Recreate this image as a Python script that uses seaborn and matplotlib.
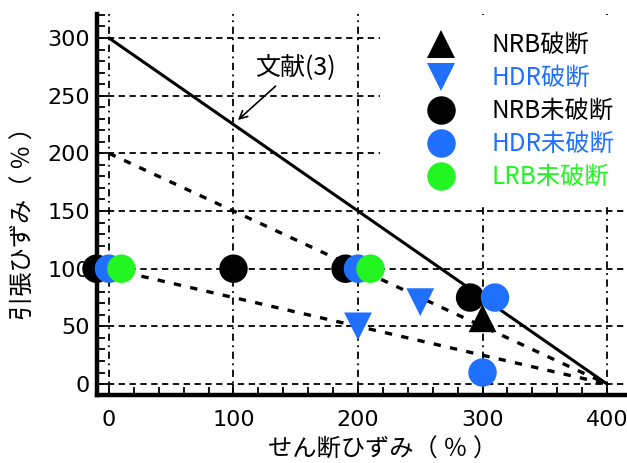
import numpy as np
import pandas as pd
import matplotlib
matplotlib.use("Agg")
import matplotlib.pyplot as plt
import seaborn as sns
from matplotlib.lines import Line2D
from matplotlib.ticker import MultipleLocator

# ---------------- data ----------------
nrb_break_x = [300]
nrb_break_y = [57]
hdr_break_x = [200, 250]
hdr_break_y = [50, 71]
nrb_unbroken_x = [-10, 100, 190, 290]
nrb_unbroken_y = [100, 100, 100, 75]
hdr_unbroken_x = [0, 200, 310, 300]
hdr_unbroken_y = [100, 100, 75, 10]
lrb_unbroken_x = [10, 210]
lrb_unbroken_y = [100, 100]

ref_x = [0, 400]          # 文献(3)
ref_y = [300, 0]
guide_x = [0, 400]
guide1_y = [200, 0]
guide2_y = [100, 0]

x_ticks = [0, 100, 200, 300, 400]
y_ticks = [0, 50, 100, 150, 200, 250, 300]

labels = ["NRB破断", "HDR破断", "NRB未破断", "HDR未破断", "LRB未破断"]
BLACK = "#000000"
BLUE = "#2070ff"
GREEN = "#22f522"

xlabel = "せん断ひずみ（ ％ ）"
ylabel = "引張ひずみ（ ％ ）"
annot = "文献(3)"

# ---------------- figure ----------------
sns.set_theme(style="white")
plt.rcParams["font.family"] = ["DejaVu Sans", "Noto Sans CJK JP"]
plt.rcParams["text.color"] = "black"
plt.rcParams["axes.labelcolor"] = "black"
CJK = ["Noto Sans CJK JP", "DejaVu Sans"]

fig = plt.figure(figsize=(6.27, 4.63), dpi=100)
ax = fig.add_axes([97 / 627, 68 / 463, 530 / 627, 381 / 463])
ax.set_xlim(-9.6, 416)
ax.set_ylim(-9.5, 320.8)

# grid
for v in x_ticks:
    ax.axvline(v, color="black", lw=1.3, ls=(0, (4, 2.5, 1, 2.5)), zorder=1)
for v in y_ticks:
    ax.axhline(v, color="black", lw=1.3, ls=(0, (3.5, 2.5)), zorder=1)

# lines
sns.lineplot(x=guide_x, y=guide1_y, ax=ax, color="black", lw=2.4,
             linestyle=(0, (2.2, 2.8)), zorder=2)
sns.lineplot(x=guide_x, y=guide2_y, ax=ax, color="black", lw=2.4,
             linestyle=(0, (2.2, 2.8)), zorder=2)
sns.lineplot(x=ref_x, y=ref_y, ax=ax, color="black", lw=2.2, zorder=2)

# points
S_C = 420
S_T = 400
kw = dict(ax=ax, edgecolor="none", linewidth=0, clip_on=False, zorder=4, legend=False)
sns.scatterplot(x=nrb_unbroken_x, y=nrb_unbroken_y, color=BLACK, marker="o", s=S_C, **kw)
sns.scatterplot(x=hdr_unbroken_x, y=hdr_unbroken_y, color=BLUE, marker="o", s=S_C, **kw)
sns.scatterplot(x=lrb_unbroken_x, y=lrb_unbroken_y, color=GREEN, marker="o", s=S_C, **kw)
sns.scatterplot(x=nrb_break_x, y=nrb_break_y, color=BLACK, marker="^", s=S_T, **kw)
sns.scatterplot(x=hdr_break_x, y=hdr_break_y, color=BLUE, marker="v", s=S_T, **kw)

# annotation
ax.annotate(annot, xy=(103.6, 228.9), xytext=(150, 274), ha="center", va="center",
            fontsize=18, family=CJK, color="black",
            arrowprops=dict(arrowstyle="->", color="black", lw=1.2,
                            mutation_scale=14, shrinkA=2, shrinkB=0),
            zorder=5)

# axes styling
for s in ["top", "right"]:
    ax.spines[s].set_visible(False)
for s in ["left", "bottom"]:
    ax.spines[s].set_linewidth(3.2)
    ax.spines[s].set_color("black")
    ax.spines[s].set_zorder(3)

ax.set_xticks(x_ticks)
ax.set_yticks(y_ticks)
ax.xaxis.set_minor_locator(MultipleLocator(20))
ax.yaxis.set_minor_locator(MultipleLocator(10))
ax.tick_params(which="major", direction="in", length=8, width=1.3, color="black",
               labelsize=16, labelcolor="black")
ax.tick_params(which="minor", direction="in", length=6, width=1.3, color="black")
ax.tick_params(axis="x", which="major", pad=11)
ax.tick_params(axis="y", which="major", pad=5)
ax.tick_params(left=True, bottom=True, which="both")

ax.set_xlabel(xlabel, fontsize=17.5, family=CJK, color="black")
ax.set_ylabel(ylabel, fontsize=17.5, family=CJK, color="black")
ax.xaxis.set_label_coords((383 - 97) / 530, -(437 - 395) / 381)
ax.yaxis.set_label_coords(-(97 - 37) / 530, (395 - 218) / 381)

# legend
colors = [BLACK, BLUE, BLACK, BLUE, GREEN]
markers = ["^", "v", "o", "o", "o"]
handles = [Line2D([], [], ls="none", marker=m, color=c, markersize=(20 if m != "o" else 20.5),
                  markeredgewidth=0) for m, c in zip(markers, colors)]
leg = ax.legend(handles, labels, loc="upper left",
                bbox_to_anchor=(380 / 627, 1 - 15 / 463), bbox_transform=fig.transFigure,
                frameon=True, facecolor="white", edgecolor="none", framealpha=1,
                fancybox=False, borderaxespad=0, borderpad=0.7,
                handlelength=3.6, handletextpad=0.3, labelspacing=0.29,
                prop={"family": CJK, "size": 17.5}, labelcolor=colors, numpoints=1)
leg.set_zorder(6)

fig.savefig("out.png", dpi=100)
